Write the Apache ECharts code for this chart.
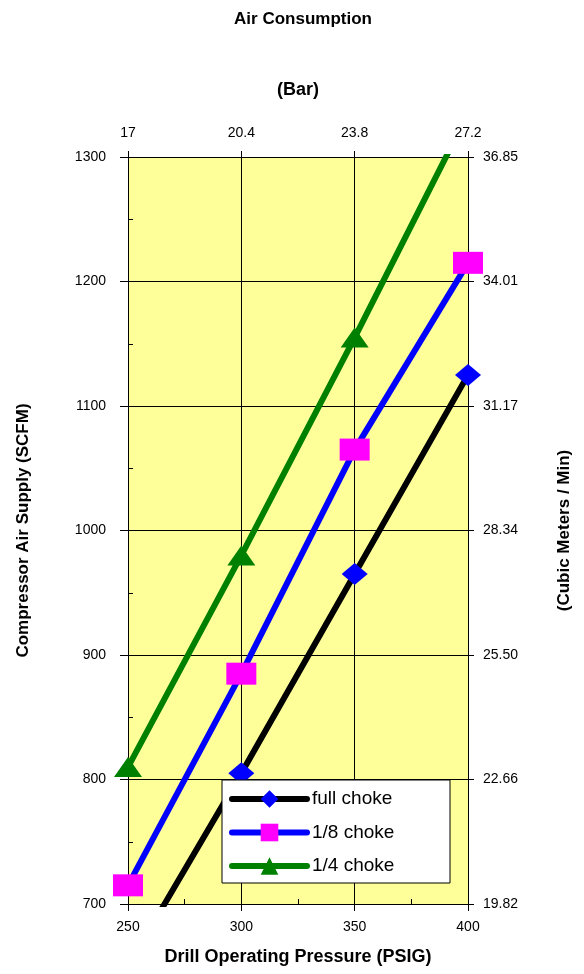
<!DOCTYPE html>
<html>
<head>
<meta charset="utf-8">
<script src="https://cdn.jsdelivr.net/npm/echarts@6/dist/echarts.min.js"></script>
<style>html,body{margin:0;padding:0;background:#fff}#c{width:584px;height:974px}</style>
</head>
<body>
<div id="c"></div>
<script>
var pressures = [250, 300, 350, 400];
var barLabels = ['17', '20.4', '23.8', '27.2'];
var cubicLabels = ['19.82', '22.66', '25.50', '28.34', '31.17', '34.01', '36.85'];
var fullChoke = [650, 805, 965, 1125];
var eighthChoke = [715, 885, 1065, 1215];
var quarterChoke = [810, 980, 1155, 1335];
var seriesNames = ['full choke', '1/8 choke', '1/4 choke'];

function pairs(vals) { return pressures.map(function (p, i) { return [p, vals[i]]; }); }

var FONT = 'Liberation Sans, Arial, sans-serif';
var chart = echarts.init(document.getElementById('c'));
var blackLine = { lineStyle: { color: '#000', width: 1 } };
chart.setOption({
  animation: false,
  backgroundColor: '#fff',
  title: {
    text: 'Air Consumption', left: 298, top: 6, textAlign: 'center',
    textStyle: { fontFamily: FONT, fontSize: 17, fontWeight: 'bold', color: '#000' }
  },
  grid: { left: 128, right: 116, top: 157, bottom: 70, show: true, backgroundColor: '#FFFF99', borderWidth: 0 },
  legend: {
    orient: 'vertical', left: 222, top: 780,
    backgroundColor: '#fff', borderColor: '#000', borderWidth: 1, borderRadius: 0,
    padding: [8, 7, 6, 7], itemWidth: 75, itemHeight: 22, itemGap: 11.5,
    lineStyle: { width: 6, cap: 'round' },
    textStyle: { fontFamily: FONT, fontSize: 19, color: '#000', width: 131, lineHeight: 22 },
    data: seriesNames
  },
  xAxis: [
    {
      type: 'value', position: 'bottom', min: 250, max: 400, interval: 50,
      name: 'Drill Operating Pressure (PSIG)', nameLocation: 'middle', nameGap: 44,
      nameTextStyle: { fontFamily: FONT, fontSize: 18, fontWeight: 'bold', color: '#000' },
      axisLine: blackLine, axisTick: { show: true, inside: false, length: 7, lineStyle: { color: '#000' } },
      axisLabel: { fontFamily: FONT, fontSize: 14, color: '#000', margin: 16,
        formatter: function (v) { return String(v); } },
      splitLine: { show: true, lineStyle: { color: '#000', width: 1 } }
    },
    {
      type: 'value', position: 'top', min: 250, max: 400, interval: 50,
      name: '(Bar)', nameLocation: 'middle', nameGap: 58,
      nameTextStyle: { fontFamily: FONT, fontSize: 18, fontWeight: 'bold', color: '#000' },
      axisLine: blackLine, axisTick: { show: true, inside: false, length: 6, lineStyle: { color: '#000' } },
      axisLabel: { fontFamily: FONT, fontSize: 14, color: '#000', margin: 17,
        formatter: function (v) { return barLabels[Math.round((v - 250) / 50)]; } },
      splitLine: { show: false }
    },
    {
      type: 'value', position: 'bottom', min: 250, max: 400, interval: 25,
      axisLine: { show: false }, axisLabel: { show: false }, splitLine: { show: false },
      axisTick: { show: true, inside: true, length: 5, lineStyle: { color: '#000' } }
    }
  ],
  yAxis: [
    {
      type: 'value', position: 'left', min: 700, max: 1300, interval: 100,
      name: 'Compressor Air Supply (SCFM)', nameLocation: 'middle', nameGap: 96, nameRotate: 90,
      nameTextStyle: { fontFamily: FONT, fontSize: 17, fontWeight: 'bold', color: '#000' },
      axisLine: { show: true, lineStyle: { color: '#000', width: 1 } },
      axisTick: { show: true, inside: false, length: 8, lineStyle: { color: '#000' } },
      axisLabel: { fontFamily: FONT, fontSize: 14, color: '#000', margin: 22,
        formatter: function (v) { return String(v); } },
      splitLine: { show: true, lineStyle: { color: '#000', width: 1 } }
    },
    {
      type: 'value', position: 'right', min: 700, max: 1300, interval: 100,
      name: '(Cubic Meters / Min)', nameLocation: 'middle', nameGap: 88, nameRotate: 90,
      nameTextStyle: { fontFamily: FONT, fontSize: 17, fontWeight: 'bold', color: '#000' },
      axisLine: { show: true, lineStyle: { color: '#000', width: 1 } },
      axisTick: { show: true, inside: false, length: 6, lineStyle: { color: '#000' } },
      axisLabel: { fontFamily: FONT, fontSize: 14, color: '#000', margin: 15,
        formatter: function (v) { return cubicLabels[Math.round((v - 700) / 100)]; } },
      splitLine: { show: false }
    },
    {
      type: 'value', position: 'left', min: 700, max: 1300, interval: 50,
      axisLine: { show: false }, axisLabel: { show: false }, splitLine: { show: false },
      axisTick: { show: true, inside: true, length: 5, lineStyle: { color: '#000' } }
    },
    {
      type: 'value', position: 'right', min: 700, max: 1300, interval: 100,
      axisLine: { show: false }, axisLabel: { show: false }, splitLine: { show: false },
      axisTick: { show: true, inside: true, length: 8, lineStyle: { color: '#000' } }
    }
  ],
  series: [
    {
      name: seriesNames[0], type: 'line', data: pairs(fullChoke), clip: true,
      symbol: 'diamond', symbolSize: [26, 22],
      lineStyle: { color: '#000', width: 6 }, itemStyle: { color: '#0000FF' }, z: 3
    },
    {
      name: seriesNames[1], type: 'line', data: pairs(eighthChoke), clip: true,
      symbol: 'rect', symbolSize: [30, 22],
      lineStyle: { color: '#0000FF', width: 6 }, itemStyle: { color: '#FF00FF' }, z: 3
    },
    {
      name: seriesNames[2], type: 'line', data: pairs(quarterChoke), clip: true,
      symbol: 'triangle', symbolSize: [28, 20],
      lineStyle: { color: '#008000', width: 6 }, itemStyle: { color: '#008000' }, z: 3
    }
  ]
});
</script>
</body>
</html>
